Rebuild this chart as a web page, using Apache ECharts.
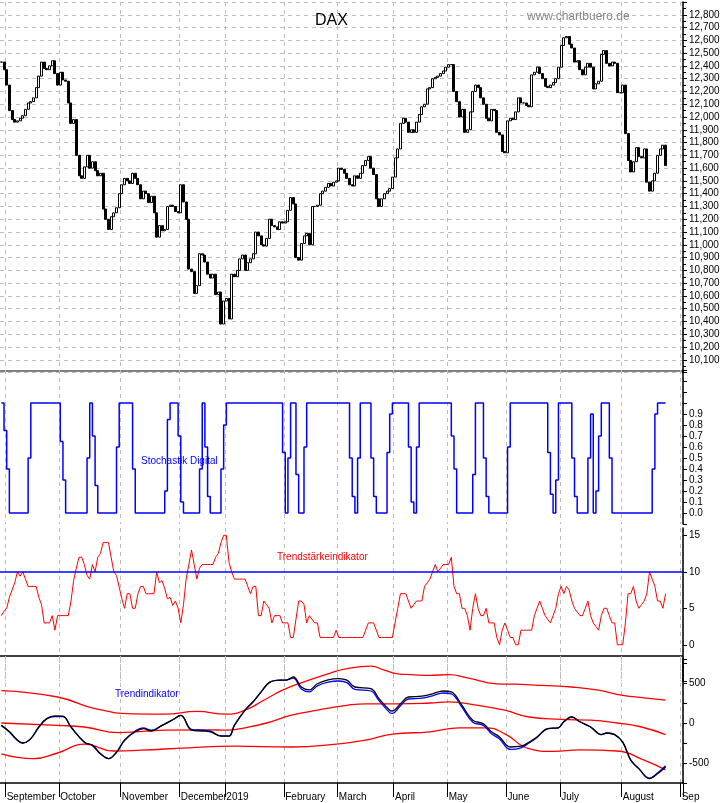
<!DOCTYPE html>
<html><head><meta charset="utf-8">
<script src="https://cdn.jsdelivr.net/npm/echarts@6/dist/echarts.min.js"></script>
<style>html,body{margin:0;padding:0;background:#fff}#c{width:723px;height:803px}</style>
</head><body><div id="c"></div>
<script>
// ---- DATA ----
const holidays = ['2018-12-24','2018-12-25','2018-12-26','2018-12-31','2019-01-01','2019-04-19','2019-04-22','2019-05-01'];
const firstDay = '2018-08-30', lastDay = '2019-09-02';
const monthNames = ['2019','February','March','April','May','June','July','August','Sep','October','November','December'];
const monthNames2018 = {8:'September',9:'October',10:'November',11:'December'};

const closes = [
12430,12370,
12250,12050,11980,11960,11970,11990,12010,12060,12110,12120,12150,12230,12320,12430,12380,12370,12400,12440,12340,12250,
12350,12290,12280,12110,11950,11980,11700,11540,11520,11610,11700,11600,11650,11580,11540,11560,11280,11200,11120,11220,11250,11290,11400,
11470,11520,11500,11480,11560,11520,11470,11360,11420,11400,11330,11380,11250,11060,11150,11110,11120,11300,11310,11300,11260,11250,
11470,11335,11200,10810,10790,10620,10680,10930,10920,10865,10770,10740,10770,10610,10630,10380,10560,
10580,10420,10770,10750,10800,10890,10920,10800,10860,10890,10930,11100,11070,11000,10990,11050,11200,11150,11140,11120,11180,11170,
11180,11270,11370,11320,10900,10880,11010,11070,11090,11000,11300,11300,11310,11400,11420,11450,11480,11460,11490,11500,
11600,11590,11560,11520,11470,11460,11540,11520,11560,11620,11660,11690,11600,11550,11360,11300,11360,11400,11420,11440,11530,
11680,11750,11950,11990,11960,11880,11900,11880,11960,12020,12080,12100,12220,12230,12300,12310,12320,12340,12360,12390,
12410,12410,12200,12120,12000,12060,11880,11900,12040,12200,12250,12230,12150,12100,11990,11970,12060,12050,11880,11860,11730,11720,
11970,11990,11980,12040,12150,12110,12110,12090,12080,12330,12350,12390,12340,12300,12240,12230,12250,12270,12300,12390,
12560,12620,12630,12570,12540,12430,12440,12370,12330,12390,12420,12390,12220,12260,12280,12490,12520,12420,12400,12430,12420,12190,12190,
12250,11870,11660,11570,11650,11760,11690,11680,11750,11490,11420,11500,11560,11700,11750,11780,11620];

const stochRuns = [[1,1],[0.75,1],[0.4,1],[0,7],[0.5,1],[1,11],[0.65,1],[0.3,1],[0,8],[0.5,1],[1,1],[0.7,1],[0.25,1],[0,7],
[0.6,1],[1,5],[0.4,1],[0,11],[0.2,1],[0.85,1],[1,3],[0.7,1],[0.1,1],[0,6],[0.4,1],[1,1],[0.6,1],[0.15,1],[0,4],
[0.4,1],[0.8,1],[1,21],[0.55,1],[0,1],[0.5,1],[1,2],[0.35,1],[0,2],[0.6,1],[1,16],[0.5,1],[0.15,1],[0,1],[0.5,1],[1,4],
[0.5,1],[0.15,1],[0,4],[0.55,1],[0.9,1],[1,6],[0.6,1],[0.1,1],[0,1],[0.6,1],[1,12],[0.7,1],[0.4,1],[0,6],[0.35,1],[1,3],
[0.5,1],[0.15,1],[0,7],[0.6,1],[1,14],[0.55,1],[0.17,1],[0,1],[0.3,1],[1,5],[0.5,1],[0.15,1],[0,4],
[0.5,1],[0.9,1],[0,1],[0.2,1],[0.7,1],[1,3],[0.5,1],[0,15],[0.4,1],[0.9,1],[1,4]];

const trendStrength = [
4,4.6,5,6.5,7.5,8.5,10,9.4,10,9,8,8,8,8,6.5,5.5,3,3,3,4,2,4,
4,4,4,4,6,8.8,10.5,12,12,11,9.5,9,11,10,12,12.5,14,14,14,12,10,9.5,7.9,
6.3,5,7,7,5,5,7,8,8,7,7,7,7,10,8.5,8.8,7.7,6.3,6.5,5.4,6,5,
3,5.5,9,11,13,11,9,10.5,11,11,11,11,11,12,12.5,14,15,
15,11.3,10,9,9,9,9,9,8,7,8,8,4,4,6,5.5,5,3,4,4,4,3,
3,3,1,1,3.5,6,6,5.5,3,4,3.5,3,3,1,1,1,1,1,1,2,
1,1,1,1,1,1,1,1,1,1,2,3,3,3,2,1,1,1,1,1,1,
3,5,7,7,7,6,5,5.5,6,6,6,8,8.5,9,10,11,10,10.5,11,11,
11,12,8,7,7,5,5,4,2,5,7,5,4,4,5,3,3,3,1,0,2,3,
2,1,1,0,0,2,2,2,2,2,4,5,6,5,4,3.5,3,4,5,7,
8,7,8,7.5,6,5,4.5,4,4,5,6,4,3,2.5,2,4,5,5,4,3,3,0,0,
0,3,7,7,8,6,5,5.5,6,7,10,9,8,6,6,5,7];

// [trading-day index, value]
const trendBlack = [[0,-30],[3,-110],[6,-215],[8,-250],[11,-195],[14,-50],[17,55],[20,88],[23,85],[26,-50],[31,-240],[34,-280],[37,-385],[40,-445],[43,-365],[46,-215],[50,-110],[53,-70],[56,-100],[60,-30],[64,40],[67,95],[71,-90],[75,-100],[78,-110],[82,-165],[85,-165],[87,-30],[91,160],[94,265],[97,390],[100,505],[104,535],[106,535],[109,575],[112,450],[115,415],[118,490],[122,540],[126,555],[129,535],[132,450],[138,430],[141,305],[145,160],[146,150],[149,240],[152,325],[157,335],[161,365],[165,400],[168,390],[172,220],[176,35],[180,-10],[183,-110],[186,-175],[190,-300],[194,-290],[197,-240],[200,-175],[204,-70],[208,-60],[210,15],[213,75],[216,15],[220,-50],[224,-145],[226,-125],[229,-145],[232,-240],[235,-465],[238,-570],[242,-695],[245,-635],[248,-550]];
const trendBlue = [[0,-30],[3,-110],[6,-215],[8,-250],[11,-195],[14,-50],[17,55],[20,80],[23,80],[26,-50],[31,-240],[34,-280],[37,-385],[40,-445],[43,-365],[46,-215],[50,-100],[53,-60],[56,-90],[60,-30],[64,40],[67,95],[71,-80],[75,-90],[78,-100],[82,-160],[85,-160],[87,-30],[91,160],[94,265],[97,390],[100,505],[104,535],[106,535],[109,560],[112,425],[115,390],[118,465],[122,510],[126,525],[129,505],[132,420],[138,400],[141,280],[145,130],[146,120],[149,215],[152,300],[157,310],[161,340],[165,375],[168,365],[172,195],[176,10],[180,-30],[183,-135],[186,-200],[190,-330],[194,-310],[197,-250],[200,-180],[204,-70],[208,-60],[210,15],[213,75],[216,15],[220,-50],[224,-145],[226,-125],[229,-145],[232,-240],[235,-465],[238,-570],[242,-690],[245,-625],[248,-535]];
const bandUpper = [[0,405],[21,325],[35,180],[49,115],[61,110],[73,145],[84,110],[91,160],[98,285],[105,410],[113,515],[122,615],[129,680],[138,710],[143,660],[148,615],[153,605],[160,595],[167,605],[174,565],[185,490],[192,485],[202,470],[213,450],[223,410],[232,345],[240,315],[248,285]];
const bandMiddle = [[0,0],[21,-30],[31,-50],[44,-120],[61,-90],[78,-85],[84,-90],[91,-60],[99,0],[108,95],[118,160],[129,220],[136,240],[148,240],[160,250],[167,265],[178,220],[188,160],[197,75],[209,45],[220,35],[230,0],[239,-50],[248,-145]];
const bandLower = [[0,-385],[12,-445],[21,-375],[31,-265],[42,-350],[52,-340],[70,-310],[87,-290],[108,-300],[126,-260],[136,-215],[146,-140],[160,-110],[171,-60],[181,-60],[188,-135],[197,-320],[206,-355],[216,-335],[230,-350],[240,-465],[248,-585]];

// ---- BUILD ----
function fmt(d){return d.toISOString().slice(0,10);}
const cats=[];
for(let d=new Date(firstDay+'T00:00:00Z'); fmt(d)<=lastDay; d.setUTCDate(d.getUTCDate()+1)){
  const wd=d.getUTCDay(); if(wd===0||wd===6) continue;
  if(holidays.includes(fmt(d))) continue; cats.push(fmt(d));
}
const isMonthStart=(i)=> i>0 && cats[i].slice(5,7)!==cats[i-1].slice(5,7);
function monthLabel(v){const y=+v.slice(0,4), m=+v.slice(5,7)-1; if(y===2018) return monthNames2018[m]; return monthNames[m];}
const ohlc=closes.map((c,i)=>{const o=i?closes[i-1]:c;return [o,c,Math.min(o,c),Math.max(o,c)];});
const stoch=[]; stochRuns.forEach(([v,n])=>{for(let k=0;k<n;k++)stoch.push(v);});

const gridL=0, gridR=40;
const grids=[
 {left:gridL,right:gridR,top:2,height:370.6},
 {left:gridL,right:gridR,top:370,height:154},
 {left:gridL,right:gridR,top:528,height:153.3},
 {left:gridL,right:gridR,top:659,height:124}
];
const split={show:true,interval:(i)=>isMonthStart(i),lineStyle:{color:'#bdbdbd',type:[4,4],width:1}};
const xAxes=grids.map((g,gi)=>({type:'category',gridIndex:gi,data:cats,boundaryGap:true,position:'bottom',
  axisLine:{show:gi===3,onZero:false,lineStyle:{color:'#000',width:1.5}},
  axisTick:{show:gi===3,interval:(i)=>isMonthStart(i),length:14,lineStyle:{color:'#000'}},
  axisLabel:{show:gi===3,interval:(i)=>isMonthStart(i),formatter:(v)=>monthLabel(v),align:'left',margin:9,
    showMinLabel:true,hideOverlap:false,
    fontFamily:'Liberation Sans',fontSize:10,color:'#000'},
  splitLine:split}));
const yBase={position:'right',axisLine:{show:true,lineStyle:{color:'#000',width:1.5}},
  axisTick:{show:true,length:4,lineStyle:{color:'#000'}},
  axisLabel:{fontFamily:'Liberation Sans',fontSize:10,color:'#000',margin:6}};
const yAxes=[
 Object.assign({},yBase,{gridIndex:0,min:10000,max:12900,interval:100,
   axisLabel:Object.assign({},yBase.axisLabel,{showMinLabel:false,showMaxLabel:false}),
   minorTick:{show:true,splitNumber:2,length:3,lineStyle:{color:'#000'}},
   splitLine:{show:true,lineStyle:{color:'#bdbdbd',type:[4,4]}}}),
 Object.assign({},yBase,{gridIndex:1,min:-0.1,max:1.3,interval:0.1,
   axisLabel:Object.assign({},yBase.axisLabel,{formatter:(v)=>(v>-0.01&&v<0.95)?Math.abs(v).toFixed(1):''}),
   splitLine:{show:false}}),
 Object.assign({},yBase,{gridIndex:2,min:-5,max:16,interval:5,
   axisLabel:Object.assign({},yBase.axisLabel,{formatter:(v)=>v>=0?String(v):''}),
   splitLine:{show:false}}),
 Object.assign({},yBase,{gridIndex:3,min:-750,max:800,interval:250,
   axisLabel:Object.assign({},yBase.axisLabel,{formatter:(v)=>(v%500===0)?String(v):''}),
   splitLine:{show:false}})
];
const lineS=(name,data,color,gi,extra)=>Object.assign({type:'line',name,data,xAxisIndex:gi,yAxisIndex:gi,symbol:'none',
  lineStyle:{color,width:1.3},silent:true,animation:false},extra||{});

const option={
 animation:false,
 grid:grids, xAxis:xAxes, yAxis:yAxes,
 title:[{text:'DAX',left:310,top:8,textStyle:{fontFamily:'Liberation Sans',fontSize:16,fontWeight:'normal',color:'#000'}},
        {text:'www.chartbuero.de',left:522,top:6,textStyle:{fontFamily:'Liberation Sans',fontSize:12,fontWeight:'normal',color:'#888'}},
        {text:'Stochastik Digital',left:136,top:451,textStyle:{fontFamily:'Liberation Sans',fontSize:10,fontWeight:'normal',color:'#0000ff'}},
        {text:'Trendstärkeindikator',left:272,top:547,textStyle:{fontFamily:'Liberation Sans',fontSize:10,fontWeight:'normal',color:'#ff0000'}},
        {text:'Trendindikator',left:110,top:684,textStyle:{fontFamily:'Liberation Sans',fontSize:10,fontWeight:'normal',color:'#0000ff'}}],
 graphic:[
  {type:'line',shape:{x1:0,y1:371,x2:683,y2:371},style:{stroke:'#000',lineWidth:1}},
  {type:'line',shape:{x1:0,y1:656,x2:683,y2:656},style:{stroke:'#000',lineWidth:1.5}}
 ],
 series:[
  {type:'candlestick',data:ohlc,xAxisIndex:0,yAxisIndex:0,barWidth:2.5,
   itemStyle:{color:'#fff',color0:'#000',borderColor:'#000',borderColor0:'#000',borderWidth:1}},
  lineS('Stochastik',stoch,'#0000ff',1,{step:'end',lineStyle:{color:'#0000ff',width:1.5}}),
  lineS('Trendstärke',trendStrength,'#ff0000',2,{lineStyle:{color:'#ff0000',width:1},
    markLine:{symbol:'none',silent:true,label:{show:false},lineStyle:{color:'#0000ff',width:1.5,type:'solid'},data:[{yAxis:10}]}}),
  lineS('upper',bandUpper,'#ff0000',3,{smooth:true}),
  lineS('middle',bandMiddle,'#ff0000',3,{smooth:true}),
  lineS('lower',bandLower,'#ff0000',3,{smooth:true}),
  lineS('blue',trendBlue,'#0000ff',3,{smooth:0.4}),
  lineS('black',trendBlack,'#000000',3,{smooth:0.4})
 ]
};
const ch=echarts.init(document.getElementById('c'),null,{renderer:'canvas'});
ch.setOption(option);
</script></body></html>
